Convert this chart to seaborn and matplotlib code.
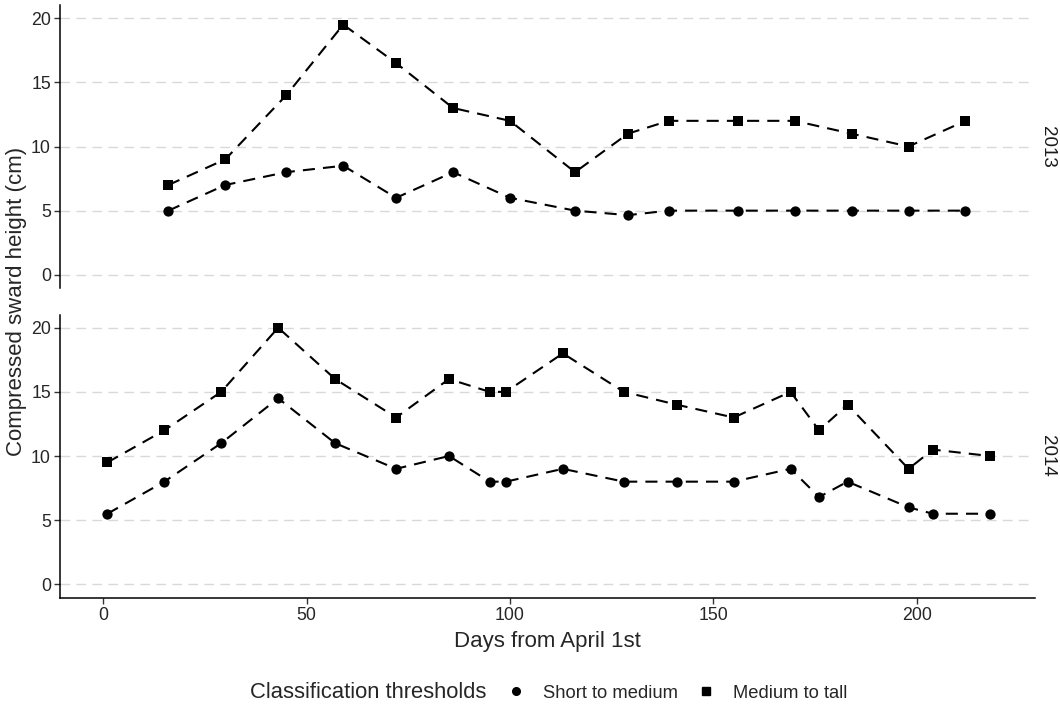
import matplotlib
matplotlib.use("Agg")
import matplotlib.pyplot as plt
from matplotlib.lines import Line2D
import pandas as pd
import seaborn as sns

# sward height thresholds
days_2013 = [16, 30, 45, 59, 72, 86, 100, 116, 129, 139, 156, 170, 184, 198, 212]
short_med_2013 = [5, 7, 8, 8.5, 6, 8, 6, 5, 4.65, 5, 5, 5, 5, 5, 5]
med_tall_2013 = [7, 9, 14, 19.5, 16.5, 13, 12, 8, 11, 12, 12, 12, 11, 10, 12]

days_2014 = [1, 15, 29, 43, 57, 72, 85, 95, 99, 113, 128, 141, 155, 169, 176, 183, 198, 204, 218]
short_med_2014 = [5.5, 8, 11, 14.5, 11, 9, 10, 8, 8, 9, 8, 8, 8, 9, 6.8, 8, 6, 5.5, 5.5]
med_tall_2014 = [9.5, 12, 15, 20, 16, 13, 16, 15, 15, 18, 15, 14, 13, 15, 12, 14, 9, 10.5, 10]

thresholds = ["Short to medium", "Medium to tall"]
years = ["2013", "2014"]
y_ticks = [0, 5, 10, 15, 20]
x_ticks = [0, 50, 100, 150, 200]


def make_frame():
	rows = []
	for year, days, sm, mt in [("2013", days_2013, short_med_2013, med_tall_2013),
	                           ("2014", days_2014, short_med_2014, med_tall_2014)]:
		for d, v in zip(days, sm):
			rows.append((year, d, v, thresholds[0]))
		for d, v in zip(days, mt):
			rows.append((year, d, v, thresholds[1]))
	return pd.DataFrame(rows, columns=["year", "day", "height", "threshold"])


def main():
	df = make_frame()
	sns.set_style("white")
	plt.rcParams['font.family'] = ['Liberation Sans', 'DejaVu Sans']

	fig = plt.figure(figsize=(10.6, 7.14), dpi=100)
	left, width, h = 60/1060, 975/1060, 283/714
	ax_top = fig.add_axes([left, 1 - 288/714, width, h])
	ax_bot = fig.add_axes([left, 1 - 597.5/714, width, h])

	markers = {"Short to medium": "o", "Medium to tall": "s"}
	dashes = {"Short to medium": (5.8, 3.9), "Medium to tall": (5.8, 3.9)}
	pal = {"Short to medium": "black", "Medium to tall": "black"}

	for ax, year in zip([ax_top, ax_bot], years):
		sub = df[df["year"] == year]
		for yv in y_ticks:
			ax.axhline(yv, color="#d9d9d9", lw=1.0, linestyle=(0, (7, 4.5)), zorder=0)
		sns.lineplot(data=sub, x="day", y="height", hue="threshold", style="threshold",
		             markers=markers, dashes=dashes, palette=pal, lw=1.5,
		             legend=False, ax=ax, sort=True)
		for line in ax.get_lines():
			if line.get_marker() == "o":
				line.set_markersize(7.4)
			elif line.get_marker() == "s":
				line.set_markersize(7.0)
			line.set_markeredgewidth(0)
		ax.set_xlim(-10.65, 229.1)
		ax.set_ylim(-1.03, 21.03)
		ax.set_yticks(y_ticks)
		ax.set_xticks(x_ticks)
		ax.set_xlabel("")
		ax.set_ylabel("")
		for s in ["top", "right"]:
			ax.spines[s].set_visible(False)
		ax.spines["left"].set_linewidth(1.1)
		ax.spines["left"].set_color("black")
		ax.tick_params(axis="y", length=4.3, width=1.0, color="#333333", labelsize=12.8,
		               labelcolor="#262626", pad=2.2, left=True)
		ax.text(1.0125, 0.5, year, transform=ax.transAxes, rotation=270,
		        ha="center", va="center", fontsize=13.5, color="#1a1a1a")

	ax_top.spines["bottom"].set_visible(False)
	ax_top.tick_params(axis="x", bottom=False, labelbottom=False)
	ax_bot.spines["bottom"].set_linewidth(1.1)
	ax_bot.spines["bottom"].set_color("black")
	ax_bot.tick_params(axis="x", length=4.3, width=1.0, color="#333333", labelsize=12.8,
	                   labelcolor="#262626", pad=2.5, bottom=True)
	ax_bot.set_xlabel("Days from April 1st", fontsize=16, labelpad=5)

	fig.text(0.016, 1 - 301/714, "Compressed sward height (cm)", rotation=90,
	         ha="center", va="center", fontsize=16)

	# legend along the bottom
	fig.text(250/1060, 1 - 693/714, "Classification thresholds", ha="left", va="center",
	         fontsize=15.8)
	handles = [Line2D([], [], color="black", marker="o", linestyle="", markersize=5.5),
	           Line2D([], [], color="black", marker="s", linestyle="", markersize=5.2)]
	fig.legend(handles, thresholds, loc="center left", bbox_to_anchor=(508/1060, 1 - 693/714),
	           ncol=2, frameon=False, fontsize=13.2, handlelength=0.9, handletextpad=1.0,
	           columnspacing=1.1, borderpad=0, borderaxespad=0)

	fig.savefig("out.png", dpi=100)


if __name__ == "__main__":
	main()
